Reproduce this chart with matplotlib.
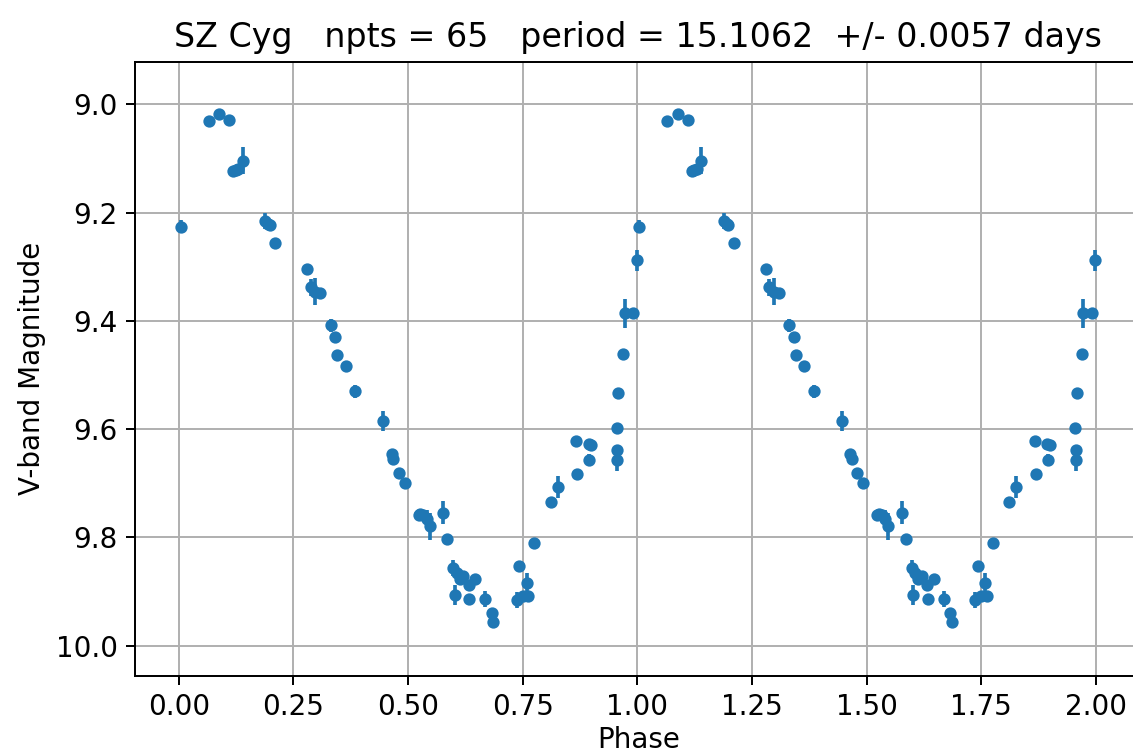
import numpy as np
import matplotlib
matplotlib.use("Agg")
import matplotlib.pyplot as plt

# phase-folded V-band photometry of SZ Cyg
phase = [0.004, 0.065, 0.088, 0.110, 0.119, 0.124, 0.129, 0.139, 0.188, 0.195,
         0.198, 0.210, 0.280, 0.288, 0.297, 0.308, 0.331, 0.341, 0.346, 0.364,
         0.385, 0.446, 0.464, 0.468, 0.480, 0.493, 0.523, 0.527, 0.533, 0.541,
         0.547, 0.576, 0.586, 0.599, 0.602, 0.606, 0.613, 0.620, 0.632, 0.633,
         0.646, 0.668, 0.6825, 0.686, 0.737, 0.743, 0.750, 0.759, 0.762, 0.775,
         0.811, 0.826, 0.866, 0.869, 0.894, 0.895, 0.900, 0.955, 0.956, 0.956,
         0.9586, 0.9695, 0.972, 0.991, 0.9986]
mag = [9.226, 9.031, 9.018, 9.028, 9.123, 9.121, 9.120, 9.104, 9.216, 9.220,
       9.222, 9.256, 9.304, 9.338, 9.346, 9.349, 9.408, 9.430, 9.463, 9.483,
       9.530, 9.585, 9.646, 9.655, 9.680, 9.700, 9.759, 9.757, 9.759, 9.765,
       9.779, 9.754, 9.803, 9.857, 9.906, 9.866, 9.876, 9.872, 9.888, 9.914,
       9.877, 9.914, 9.940, 9.956, 9.916, 9.852, 9.909, 9.885, 9.908, 9.811,
       9.734, 9.707, 9.622, 9.682, 9.628, 9.656, 9.630, 9.597, 9.639, 9.657,
       9.533, 9.461, 9.386, 9.385, 9.288]
err = [0.012, 0.005, 0.005, 0.005, 0.006, 0.006, 0.006, 0.025, 0.015, 0.008,
       0.006, 0.005, 0.005, 0.015, 0.025, 0.006, 0.012, 0.006, 0.010, 0.005,
       0.012, 0.018, 0.006, 0.006, 0.006, 0.006, 0.006, 0.006, 0.008, 0.015,
       0.025, 0.022, 0.005, 0.015, 0.018, 0.006, 0.006, 0.008, 0.006, 0.005,
       0.006, 0.015, 0.010, 0.006, 0.015, 0.006, 0.006, 0.020, 0.006, 0.010,
       0.006, 0.020, 0.005, 0.005, 0.006, 0.010, 0.006, 0.006, 0.006, 0.020,
       0.010, 0.006, 0.027, 0.006, 0.020]

star = "SZ Cyg"
period = 15.1062
period_err = 0.0057

plt.rcParams['font.size'] = 11.3
plt.rcParams['axes.titlesize'] = 13.5
plt.rcParams['xtick.labelsize'] = 11.3
plt.rcParams['ytick.labelsize'] = 11.3

phase = np.array(phase)
x = np.concatenate([phase, phase + 1])
y = np.concatenate([mag, mag])
e = np.concatenate([err, err])

dpi = 177
fig = plt.figure(figsize=(1133 / dpi, 756 / dpi), dpi=dpi)
ax = fig.add_axes([0.1192, 0.1058, 0.8885, 0.8126])

ax.errorbar(x, y, yerr=e, fmt='o', markersize=4, color='#1f77b4')
ax.set_xlim(-0.0953, 2.0998)
ax.set_ylim(10.056, 8.921)
ax.set_xticks([0.0, 0.25, 0.5, 0.75, 1.0, 1.25, 1.5, 1.75, 2.0])
ax.set_yticks([9.0, 9.2, 9.4, 9.6, 9.8, 10.0])
ax.grid(True)
ax.set_xlabel('Phase', labelpad=2)
ax.set_ylabel('V-band Magnitude')
ax.set_title(f'{star}   npts = {len(phase)}   period = {period}  +/- {period_err} days')

fig.savefig('out.png', dpi=dpi)
